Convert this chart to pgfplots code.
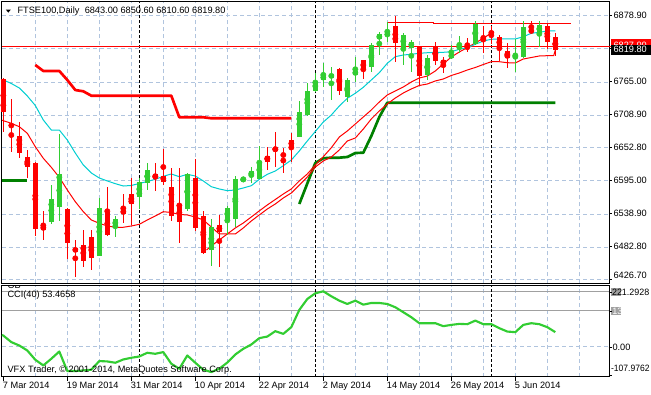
\documentclass[border=0pt]{standalone}
\usepackage{pgfplots}
\pgfplotsset{compat=1.18}
\usepackage{pgfplotstable}
\usepackage{fontspec}
\setmainfont{Liberation Sans}
\definecolor{mtgreen}{RGB}{50,205,50}
\definecolor{mtred}{RGB}{255,0,0}
\definecolor{mtcyan}{RGB}{0,206,209}
\definecolor{mtdkgreen}{RGB}{0,128,0}
\definecolor{gridblue}{RGB}{176,196,222}
\definecolor{lvlgray}{RGB}{160,160,160}

% OHLC, red (bearish) candles
\pgfplotstableread{
x O H L C
0 6771.0 6772.0 6680.2 6714.5
1 6675.9 6736.7 6645.9 6674.2
2 6673.4 6697.3 6635.7 6644.8
3 6637.4 6649.4 6601.4 6620.8
4 6627.6 6628.5 6502.1 6514.6
5 6519.7 6545.4 6495.2 6512.3
8 6548.8 6549.5 6463.2 6490.6
9 6482.0 6495.2 6432.4 6474.7
10 6486.7 6512.3 6449.5 6459.2
11 6500.9 6512.3 6443.8 6464.9
13 6543.2 6586.5 6502.6 6503.8
15 6546.6 6574.0 6524.9 6540.3
16 6574.0 6601.9 6520.9 6557.4
19 6608.3 6627.6 6579.2 6600.9
20 6605.4 6651.1 6589.4 6595.1
21 6586.0 6618.0 6527.8 6536.8
22 6557.4 6618.0 6490.6 6526.6
24 6601.9 6634.0 6510.6 6516.3
25 6536.3 6545.4 6471.5 6472.4
27 6520.9 6537.5 6449.5 6508.9
33 6639.1 6655.0 6615.1 6629.3
34 6653.3 6680.7 6620.8 6648.2
35 6642.5 6652.3 6610.5 6639.1
36 6666.5 6678.0 6629.3 6654.5
42 6787.6 6789.3 6743.6 6751.0
45 6803.5 6804.2 6771.0 6786.4
49 6861.8 6878.9 6800.6 6833.2
52 6827.5 6828.2 6760.7 6776.6
54 6827.0 6834.4 6795.0 6801.8
55 6803.5 6808.7 6780.8 6795.5
58 6827.0 6840.7 6817.2 6824.1
60 6844.7 6861.3 6816.0 6838.3
61 6853.2 6861.3 6830.9 6846.9
62 6842.9 6846.4 6801.3 6824.9
63 6818.9 6832.1 6789.3 6807.8
66 6854.9 6870.3 6849.8 6851.8
68 6862.3 6866.4 6821.9 6834.9
69 6843.0 6850.6 6810.6 6819.8
}\redbars

% OHLC, green (bullish) candles
\pgfplotstableread{
x O H L C
6 6526.1 6589.4 6522.6 6565.4
7 6552.3 6676.8 6528.3 6608.3
12 6468.3 6567.7 6467.5 6550.5
14 6518.0 6536.8 6500.9 6531.2
17 6569.4 6601.4 6548.8 6595.1
18 6593.4 6627.6 6580.9 6615.1
23 6547.8 6610.5 6545.4 6608.3
26 6477.6 6530.7 6450.7 6517.0
28 6529.5 6553.5 6503.8 6550.5
29 6531.2 6605.4 6518.0 6599.7
30 6598.5 6601.0 6597.0 6599.7
31 6604.8 6620.8 6592.3 6613.4
32 6600.2 6656.2 6599.2 6630.5
37 6672.2 6733.8 6671.5 6715.0
38 6709.3 6764.7 6707.6 6751.0
39 6750.4 6780.8 6749.2 6767.6
40 6769.3 6798.4 6757.8 6777.8
41 6773.2 6792.1 6735.0 6779.6
43 6740.7 6772.2 6732.1 6769.3
44 6777.8 6809.2 6766.4 6785.2
46 6792.1 6833.2 6783.5 6829.2
47 6839.0 6851.0 6812.1 6847.6
48 6845.2 6869.1 6834.9 6849.3
50 6824.6 6850.3 6795.0 6846.9
51 6824.6 6837.8 6783.5 6834.9
53 6777.8 6812.1 6769.3 6806.4
56 6807.5 6829.2 6804.7 6813.8
57 6824.1 6843.8 6815.0 6827.0
59 6831.5 6870.3 6829.7 6865.7
64 6807.5 6839.5 6783.5 6810.4
65 6809.2 6869.8 6807.8 6859.5
67 6850.3 6870.3 6826.3 6863.5
}\greenbars

% cyan moving average
\pgfplotstableread{
x y
-0.16 6770.0
0 6769.3
1 6763.3
2 6755.6
3 6741.9
4 6725.6
5 6700.8
6 6683.6
7 6683.6
8 6666.5
9 6644.2
10 6623.7
11 6610.0
12 6601.4
13 6596.3
14 6591.7
15 6587.7
16 6588.6
17 6592.0
18 6595.4
19 6599.2
20 6604.3
21 6608.3
22 6603.6
23 6607.7
24 6604.8
25 6596.3
26 6586.5
27 6582.6
28 6579.7
29 6580.9
30 6584.3
31 6588.2
32 6599.2
33 6607.7
34 6613.4
35 6622.5
36 6632.2
37 6647.7
38 6664.8
39 6681.1
40 6697.3
41 6709.3
42 6724.7
43 6737.9
44 6746.5
45 6756.8
46 6769.3
47 6781.8
48 6797.9
49 6809.2
50 6812.1
51 6813.3
52 6815.0
53 6816.0
54 6816.7
55 6816.7
56 6817.7
57 6821.9
58 6824.6
59 6830.4
60 6836.1
61 6839.0
62 6839.5
63 6839.5
64 6839.5
65 6843.4
66 6849.3
67 6851.0
68 6853.2
69 6853.2
}\cyanline

% thin red line A
\pgfplotstableread{
x y
-0.16 6700.3
0 6699.6
1 6695.1
2 6689.3
3 6678.0
4 6655.0
5 6635.2
6 6619.7
7 6602.6
8 6580.9
9 6560.8
10 6543.7
11 6529.5
12 6523.8
13 6519.2
14 6517.0
15 6517.0
16 6519.2
17 6522.1
18 6529.5
19 6536.3
20 6543.7
21 6542.3
22 6538.9
23 6538.1
24 6534.6
25 6529.5
26 6517.5
27 6505.5
28 6505.5
29 6505.5
30 6515.8
31 6527.8
32 6538.1
33 6548.3
34 6556.9
35 6567.2
36 6575.7
37 6589.4
38 6603.1
39 6620.2
40 6630.5
41 6637.4
42 6649.4
43 6664.8
44 6669.9
45 6685.3
46 6702.5
47 6716.2
48 6728.2
49 6738.4
50 6747.0
51 6753.9
52 6759.9
53 6762.4
54 6767.6
55 6771.0
56 6777.0
57 6781.3
58 6786.4
59 6790.7
60 6795.8
61 6800.6
62 6800.6
63 6798.9
64 6798.4
65 6805.2
66 6807.8
67 6810.4
68 6810.9
68.8 6810.9
69 6820.7
}\redA

% thin red line B
\pgfplotstableread{
x y
25.4 6478.1
26 6484.9
27 6495.2
28 6505.5
29 6515.8
30 6524.3
31 6534.6
32 6545.1
33 6555.2
34 6564.6
35 6574.0
36 6582.6
37 6596.3
38 6608.3
39 6623.7
40 6637.9
41 6653.3
42 6671.6
43 6681.9
44 6693.9
45 6705.9
46 6717.9
47 6731.6
48 6743.6
49 6750.4
50 6757.3
51 6765.8
52 6772.7
53 6776.0
54 6784.7
55 6796.7
56 6808.7
57 6817.2
58 6824.9
59 6832.7
60 6840.7
61 6849.8
}\redB

% CCI(40)
\pgfplotstableread{
x y
-0.16 43.0
0 41.2
1 17.6
2 5.4
3 -12.6
4 -45.9
5 -66.4
6 -42.4
7 -16.2
8 -86.5
9 -86.5
10 -84.3
11 -81.8
12 -50.6
13 -52.0
14 -56.7
15 -44.9
16 -38.8
17 -34.1
18 -20.8
19 -24.4
20 -18.3
21 -60.3
22 -78.2
23 -30.5
24 -56.7
25 -81.8
26 -90.1
27 -78.2
28 -56.0
29 -26.9
30 -6.5
31 8.9
32 31.9
33 37.6
34 57.0
35 47.3
36 71.4
37 133.4
38 172.9
39 193.3
40 200.5
41 182.6
42 166.8
43 154.9
44 166.8
45 152.4
46 158.5
47 158.5
48 154.9
49 143.1
50 125.2
51 107.2
52 85.7
53 85.7
54 85.7
55 75.0
56 79.6
57 83.2
58 82.1
59 95.0
60 82.1
61 82.1
62 67.8
63 55.6
64 53.4
65 79.6
66 85.7
67 82.1
68 71.4
69 53.5
}\cci

\begin{document}
\begin{tikzpicture}[font=\fontsize{6.9}{8}\selectfont]
\path[use as bounding box] (0pt,0pt) rectangle (488.25pt,296.25pt);

% ---------------- main price window ----------------
\begin{axis}[
  at={(1.5pt,83.625pt)}, anchor=south west,
  width=455.25pt, height=211.125pt, scale only axis,
  xmin=-0.1625, xmax=75.7125, ymin=6420.70, ymax=6902.88,
  clip=false,
  axis line style={black, line width=0.75pt},
  xtick={4,8,...,72}, xticklabels={}, xtick style={draw=none},
  ytick={6426.7,6483.2,6539.7,6596.3,6652.8,6709.3,6765.8,6822.4,6878.9},
  yticklabels={}, ytick style={draw=none},
  xmajorgrids, ymajorgrids,
  major grid style={gridblue, line width=0.75pt, dash pattern=on 3pt off 2.25pt},
]
\foreach \s in {17,39,61}{
  \edef\tmp{\noexpand\draw[black, line width=0.75pt, dash pattern=on 2.25pt off 1.5pt] (\s,6420.7) -- (\s,6902.88);}\tmp
}
% horizontal line object
\addplot[mtred, line width=0.75pt] coordinates {(-0.1625,6827.0) (80.96,6827.0)};
% thick red resistance line
\addplot[mtred, line width=2pt, line join=round] coordinates {
 (4,6795.0) (5,6784.7) (7,6784.7) (8,6769.3) (9,6752.1) (10,6749.9) (11,6742.4)
 (21,6742.4) (22,6705.4) (25,6705.4) (26,6703.7) (36,6703.7)};
% thick green support lines
\addplot[mtdkgreen, line width=2pt] coordinates {(-0.16,6596.8) (3,6596.8)};
\addplot[mtdkgreen, line width=2pt, line join=round] coordinates {
 (37,6556.9) (38,6592.0) (39,6627.1) (40,6635.2) (41,6636.2) (42,6636.2) (43,6637.4)
 (44,6644.2) (45,6644.7) (46,6673.3) (47,6705.9) (48,6730.4) (69,6730.4)};
% thin red top line
\addplot[mtred, line width=0.75pt] coordinates {(47.95,6868.1) (53.8,6868.1) (53.8,6865.2) (70.9,6865.2)};
% moving averages
\addplot[mtred, line width=0.75pt] table[x=x,y=y] {\redA};
\addplot[mtred, line width=0.75pt] table[x=x,y=y] {\redB};
\addplot[mtcyan, line width=0.75pt] table[x=x,y=y] {\cyanline};
% candles: wicks
\addplot[mtred, only marks, mark=none, forget plot,
  error bars/.cd, y dir=both, y explicit, error mark=none,
  error bar style={mtred, solid, line width=0.75pt}]
  table[x=x, y expr={(\thisrow{H}+\thisrow{L})/2}, y error expr={(\thisrow{H}-\thisrow{L})/2}] {\redbars};
\addplot[mtgreen, only marks, mark=none, forget plot,
  error bars/.cd, y dir=both, y explicit, error mark=none,
  error bar style={mtgreen, solid, line width=0.75pt}]
  table[x=x, y expr={(\thisrow{H}+\thisrow{L})/2}, y error expr={(\thisrow{H}-\thisrow{L})/2}] {\greenbars};
% candles: bodies
\addplot[mtred, only marks, mark=none, forget plot,
  error bars/.cd, y dir=both, y explicit, error mark=none,
  error bar style={mtred, solid, line width=4pt}]
  table[x=x, y expr={(\thisrow{O}+\thisrow{C})/2}, y error expr={max(abs(\thisrow{O}-\thisrow{C})/2,0.45)}] {\redbars};
\addplot[mtgreen, only marks, mark=none, forget plot,
  error bars/.cd, y dir=both, y explicit, error mark=none,
  error bar style={mtgreen, solid, line width=4pt}]
  table[x=x, y expr={(\thisrow{O}+\thisrow{C})/2}, y error expr={max(abs(\thisrow{O}-\thisrow{C})/2,0.45)}] {\greenbars};
\end{axis}

% ---------------- CCI sub window ----------------
\begin{axis}[
  at={(1.5pt,13.5pt)}, anchor=south west,
  width=455.25pt, height=68.6pt, scale only axis,
  xmin=-0.1625, xmax=75.7125, ymin=-107.9762, ymax=221.2928,
  clip=false,
  axis line style={black, line width=0.75pt},
  xtick={4,8,...,72}, xticklabels={}, xtick style={draw=none},
  ytick={0}, yticklabels={}, ytick style={draw=none},
  xmajorgrids, ymajorgrids,
  major grid style={gridblue, line width=0.75pt, dash pattern=on 3pt off 2.25pt},
]
\draw[lvlgray, line width=0.75pt] (-0.1625,200) -- (75.7125,200);
\draw[lvlgray, line width=0.75pt] (-0.1625,130) -- (75.7125,130);
\foreach \s in {17,39,61}{
  \edef\tmp{\noexpand\draw[black, line width=0.75pt, dash pattern=on 2.25pt off 1.5pt] (\s,-107.9762) -- (\s,221.2928);}\tmp
}
\addplot[mtgreen, line width=1.6pt, line join=round] table[x=x,y=y] {\cci};
\end{axis}

% ---------------- texts (pixel coordinates, y downward) ----------------
\begin{scope}[x=0.75pt, y=-0.75pt, shift={(0,-395)}]
  % header
  \fill (5.8,9.6) -- (10.8,9.6) -- (8.3,12.6) -- cycle;
  \node[anchor=base west, inner sep=0pt] at (17.3,13.6) {FTSE100,Daily\hspace{4pt}6843.00 6850.60 6810.60 6819.80};
  % price scale ticks and labels
  \foreach \yy/\t in {16/6878.90, 82/6765.00, 115/6708.90, 148/6652.80, 181/6595.00, 214/6538.90, 247/6482.80}{
    \draw[line width=0.75pt] (609,\yy) -- (612,\yy);
    \node[anchor=base west, inner sep=0pt] at (613.3,\yy+2.8) {\t};
  }
  \draw[line width=0.75pt] (609,280) -- (612,280);
  \node[anchor=base west, inner sep=0pt] at (613.3,278.4) {6426.70};
  \draw[line width=0.75pt] (609,49) -- (612,49);
  \draw[mtred, line width=0.75pt] (609,46.3) -- (651,46.3);
  \fill[mtred] (611,39.3) rectangle (651,46.6);
  \begin{scope}
    \clip (611,39.3) rectangle (651,45.4);
    \node[anchor=base west, inner sep=0pt, white] at (613.3,48.6) {6827.00};
  \end{scope}
  \fill[black] (611,45.4) rectangle (651,54.6);
  \node[anchor=base west, inner sep=0pt, white] at (613.3,52.8) {6819.80};
  % CCI texts
  \begin{scope}
    \clip (3,285.6) rectangle (40,292);
    \node[anchor=base west, inner sep=0pt] at (7.3,288.6) {OB};
  \end{scope}
  \node[anchor=base west, inner sep=0pt] at (7.3,298) {CCI(40) 53.4658};
  \node[anchor=base west, inner sep=0pt] at (7.3,372.5) {VFX Trader, © 2001-2014, MetaQuotes Software Corp.};
  \fill[lvlgray] (611,288.3) rectangle (620.8,295.8);
  \node[anchor=base west, inner sep=0pt] at (611.8,295.2) {\scalebox{0.97}[1]{221.2928}};
  \fill[lvlgray] (611,306.7) rectangle (621.3,315.2);
  \node[anchor=base west, inner sep=0pt, white] at (612,314.3) {130};
  \node[anchor=base west, inner sep=0pt] at (612.3,350.2) {0.00};
  \node[anchor=base west, inner sep=0pt] at (610.8,372) {\scalebox{0.93}[1]{-107.9762}};
  \foreach \yy in {292.3,311.7,347.3,376}{ \draw[line width=0.75pt] (608.5,\yy) -- (611.5,\yy); }
  % date axis
  \foreach \xx/\t in {3.3/7 Mar 2014, 67.3/19 Mar 2014, 131.3/31 Mar 2014, 195.3/10 Apr 2014, 259.3/22 Apr 2014, 323.3/2 May 2014, 387.3/14 May 2014, 451.3/26 May 2014, 515.3/5 Jun 2014}{
    \draw[line width=0.75pt] (\xx,377.3) -- (\xx,381);
    \node[anchor=base west, inner sep=0pt] at (\xx-0.6,389) {\t};
  }
\end{scope}
\end{tikzpicture}
\end{document}
